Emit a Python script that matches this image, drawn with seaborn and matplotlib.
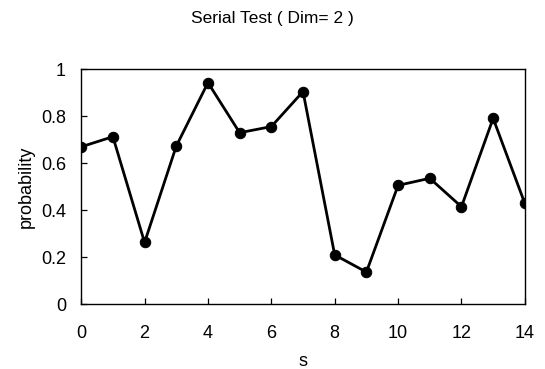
import numpy as np
import pandas as pd
import matplotlib
matplotlib.use('Agg')
import matplotlib.pyplot as plt
import seaborn as sns

# Values
s_values = list(range(15))
probability = [0.669, 0.712, 0.262, 0.672, 0.942, 0.729, 0.755, 0.904,
               0.209, 0.136, 0.505, 0.535, 0.414, 0.790, 0.428]
x_ticks = [0, 2, 4, 6, 8, 10, 12, 14]
y_ticks = [0, 0.2, 0.4, 0.6, 0.8, 1]
y_tick_labels = ['0', '0.2', '0.4', '0.6', '0.8', '1']

df = pd.DataFrame({'s': s_values, 'probability': probability})

sns.set_style('ticks', {'text.color': 'black', 'axes.labelcolor': 'black',
                        'xtick.color': 'black', 'ytick.color': 'black',
                        'axes.edgecolor': 'black'})
plt.rcParams['font.family'] = ['Liberation Sans', 'DejaVu Sans']

fig = plt.figure(figsize=(5.45, 3.69), dpi=100)
ax = fig.add_axes([0.149, 0.176, 0.814, 0.637])

sns.lineplot(data=df, x='s', y='probability', color='black', lw=2.0,
             marker='o', markersize=7.5, markeredgecolor='black', ax=ax)

ax.set_xlim(0, 14)
ax.set_ylim(0, 1)
ax.set_xticks(x_ticks)
ax.set_yticks(y_ticks)
ax.set_yticklabels(y_tick_labels)
ax.tick_params(direction='in', labelsize=13, length=4, width=0.9,
               colors='black')
ax.tick_params(axis='x', pad=15)
ax.tick_params(axis='y', pad=11)
for sp in ax.spines.values():
    sp.set_visible(True)
    sp.set_linewidth(1.0)
    sp.set_color('black')

ax.set_xlabel('s', fontsize=13, labelpad=8, color='black')
ax.set_ylabel('probability', fontsize=13, labelpad=4, color='black')
fig.suptitle('Serial Test ( Dim= 2 )', fontsize=12.5, y=0.97, color='black')

fig.savefig('out.png', dpi=100)
